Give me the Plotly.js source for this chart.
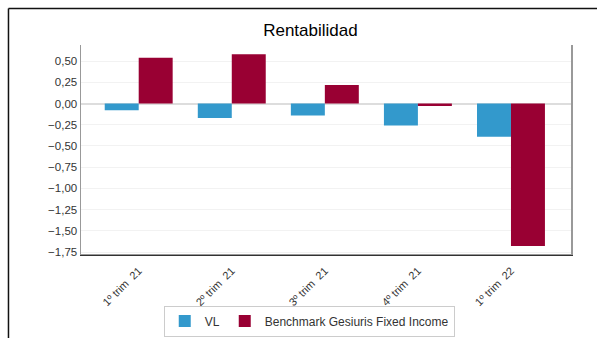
<!DOCTYPE html>
<html>
<head>
<meta charset="utf-8">
<script src="https://cdn.plot.ly/plotly-3.0.1.min.js"></script>
<style>
html,body{margin:0;padding:0;background:#fff;overflow:hidden;}
#chart{width:597px;height:338px;}
</style>
</head>
<body>
<div id="chart"></div>
<script>
const categories = ["1º trim  21", "2º trim  21", "3º trim  21", "4º trim  21", "1º trim  22"];
const vlValues = [-0.08, -0.17, -0.14, -0.26, -0.39];
const benchValues = [0.54, 0.58, 0.22, -0.03, -1.68];
const seriesNames = ["VL", "Benchmark Gesiuris Fixed Income"];
const yTicks = [0.5, 0.25, 0, -0.25, -0.5, -0.75, -1, -1.25, -1.5, -1.75];

const traces = [
  {type: "bar", name: seriesNames[0], x: categories, y: vlValues,
   marker: {color: "#3399cc"}, hoverinfo: "none"},
  {type: "bar", name: seriesNames[1], x: categories, y: benchValues,
   marker: {color: "#990033"}, hoverinfo: "none"}
];

const layout = {
  width: 597, height: 338,
  margin: {l: 81, r: 26, t: 45, b: 83, autoexpand: false},
  paper_bgcolor: "#fff", plot_bgcolor: "#fff",
  separators: ",.",
  font: {family: "Liberation Sans, Arial, sans-serif", color: "#333", size: 11},
  title: {text: "Rentabilidad", font: {size: 17, color: "#000"}, x: 0.52, xanchor: "center", y: 0.91, yanchor: "middle"},
  barmode: "group", bargap: 0.27, bargroupgap: 0,
  showlegend: true,
  legend: {orientation: "h", xref: "container", yref: "container", x: 0.518, xanchor: "center", y: 0.05, yanchor: "middle",
    bordercolor: "#ccc", borderwidth: 1, font: {size: 12, color: "#333"},
    itemwidth: 30, traceorder: "normal", tracegroupgap: 0},
  xaxis: {type: "category", range: [-0.62, 4.645], tickangle: -45, automargin: false,
    showgrid: false, showline: true, linecolor: "#333", linewidth: 1, ticklabelstandoff: 4,
    ticks: "", tickfont: {size: 11, color: "#333"}, fixedrange: true, mirror: false},
  yaxis: {range: [-1.785, 0.69], tickvals: yTicks, tickformat: ".2f", automargin: false,
    showgrid: true, gridcolor: "#f2f2f2", gridwidth: 1,
    zeroline: true, zerolinecolor: "#dddddd", zerolinewidth: 2,
    showline: true, linecolor: "#999", linewidth: 1.5, mirror: true,
    ticks: "", tickfont: {size: 11.5, color: "#333"}, fixedrange: true},
  shapes: [
    {type: "line", xref: "paper", yref: "paper", x0: -0.148, x1: 2, y0: 1.174, y1: 1.174,
     line: {color: "#111", width: 1.5}},
    {type: "line", xref: "paper", yref: "paper", x0: -0.148, x1: -0.148, y0: 1.174, y1: -1,
     line: {color: "#111", width: 1.5}},
    {type: "line", xref: "paper", yref: "paper", x0: 0, x1: 1, y0: 0, y1: 0,
     line: {color: "#333", width: 1}}
  ]
};

Plotly.newPlot("chart", traces, layout, {displayModeBar: false, staticPlot: true});
</script>
</body>
</html>
